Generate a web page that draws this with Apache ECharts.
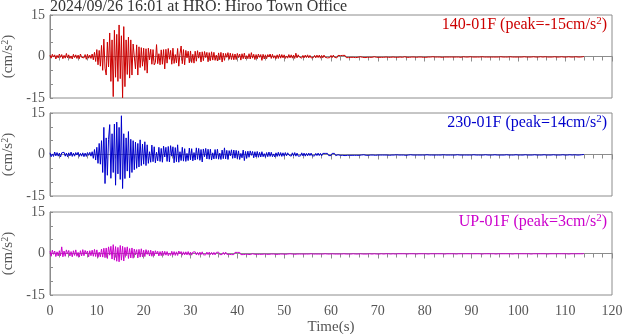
<!DOCTYPE html>
<html><head><meta charset="utf-8">
<script src="https://cdn.jsdelivr.net/npm/echarts@6/dist/echarts.min.js"></script>
<style>html,body{margin:0;padding:0;background:#fff}#c{width:624px;height:334px}</style>
</head><body><div id="c"></div>
<script>
// ---- data ----
var titleText = '2024/09/26 16:01 at HRO: Hiroo Town Office';
var channelNames = ['140-01F', '230-01F', 'UP-01F'];
var peakLabels = ['-15', '14', '3'];
var channelColors = ['#cc0000', '#0000cc', '#cc00cc'];
var xTicks = [0, 10, 20, 30, 40, 50, 60, 70, 80, 90, 100, 110, 120];
var yTickLabels = [-15, 0, 15];
var sampleStep = 0.25; // s between samples (one row below = 5 s)

var red = [
0.5,-0.6,0.8,-0.2,0.6,-0.9,0.4,-0.5,0.9,-0.3,0.7,-0.8,0.4,-0.6,1.1,-0.5,0.6,-0.7,0.2,-0.9,
0.8,-0.4,0.6,-0.7,0.5,-0.8,0.9,-0.3,0.4,-0.5,0.7,-1.0,0.8,-0.6,0.5,-0.7,0.9,-1.2,1.5,-1.8,
2.5,-3.0,2.2,-3.5,4.0,-5.0,6.3,-4.2,-6.7,5.2,-3.8,8.5,-9.0,6.0,-14.5,9.5,-7.5,8.0,-9.0,11.4,
-8.0,7.5,-14.9,10.8,-10.9,6.0,-6.5,7.0,-7.8,6.0,-6.7,4.5,3.8,-4.5,4.2,-6.7,3.5,-4.0,3.2,-3.5,
3.0,-5.0,2.8,-6.0,3.0,-1.2,2.6,-2.8,2.5,-3.0,-2.2,4.3,-2.6,1.0,-3.0,2.4,-2.8,2.5,-4.5,2.6,
-2.4,2.9,-1.0,2.2,-2.8,3.0,-2.5,0.7,-2.3,2.9,-3.5,1.0,3.8,-2.6,2.5,-3.0,2.2,-0.5,1.9,-2.3,
2.0,-2.2,0.8,-2.4,1.9,-1.7,2.1,-0.6,1.6,-2.0,1.7,-1.5,1.8,-0.4,1.5,-1.9,1.4,-1.5,1.7,-1.3,
1.5,-1.4,0.5,-1.6,1.3,-1.2,1.5,-2.0,1.2,-1.4,1.1,-0.3,1.4,-1.0,1.2,-1.1,1.0,-1.2,0.9,-1.1,
1.1,-0.4,0.9,-1.3,1.0,-0.8,1.2,-0.9,0.3,-0.8,1.0,-0.9,1.4,-0.6,0.8,-1.1,0.7,-0.8,0.9,-0.3,
0.7,-1.4,0.8,-0.9,0.6,-0.8,0.7,-0.2,0.9,-0.7,0.8,-0.6,0.3,-0.8,0.6,-0.7,0.8,-0.6,0.7,-0.5,
0.6,-0.7,0.2,-0.6,0.7,-0.5,0.6,-0.6,0.5,-0.7,1.2,-0.5,0.6,-0.2,0.5,-0.6,0.4,-0.5,0.5,-0.4,
0.6,-0.5,0.4,-0.5,0.1,-0.4,0.4,-0.5,0.5,-0.4,0.5,-0.6,0.4,-0.5,0.5,-0.3,0.4,-0.5,0.2,-0.4,
0.4,-0.4,0.5,-0.3,0.4,-0.5,0.4,-0.1,0.3,-0.4,0.4,-0.3,0.4,-0.4,0.3,-0.4,0.1,-0.3,0.4,-0.3,
0.3,-0.4,0.3,-0.3,0.4,-0.1,0.3,-0.3,0.3,-0.4,0.2,-0.3,0.3,-0.3,0.4,-0.3,0.3,-0.1,0.3,-0.3,
0.3,-0.3,0.2,-0.3,0.3,-0.3,0.1,-0.2,0.3,-0.3,0.2,-0.3,0.3,-0.2,0.3,-0.3,0.2,-0.3,0.3,-0.2,
0.2,-0.3,0.3,-0.1,0.3,-0.3,0.2,-0.3,0.2,-0.2,0.3,-0.2,0.2,-0.3,0.1,-0.2,0.3,-0.2,0.2,-0.3,
0.2,-0.3,0.2,-0.2,0.3,-0.2,0.2,-0.1,0.2,-0.2,0.3,-0.2,0.2,-0.2,0.2,-0.3,0.2,-0.2,0.1,-0.2,
0.2,-0.2,0.3,-0.2,0.2,-0.2,0.1,-0.2,0.2,-0.2,0.2,-0.3,0.2,-0.1,0.2,-0.2,0.2,-0.2,0.2,-0.1,
0.2,-0.2,0.2,-0.2,0.1,-0.2,0.2,-0.2,0.2,-0.1,0.2,-0.2,0.2,-0.2,0.1,-0.2,0.2,-0.2,0.2,-0.2,
0.1,-0.2,0.2,-0.2,0.2,-0.1,0.2,-0.2,0.2,-0.2,0.1,-0.2,0.2,-0.1,0.2,-0.2,0.2,-0.2,0.1,-0.2,
0.2,-0.2,0.1,-0.2,0.2,-0.1,0.2,-0.2,0.1,-0.2,0.2,-0.2,0.2,-0.1,0.2,-0.2,0.1,-0.2,0.2,-0.1,
0.2,-0.2,0.2,-0.1,0.2,-0.2,0.1,-0.2,0.2,-0.2,0.2,-0.1,0.1,-0.2,0.2,-0.2,0.2,-0.1,0.2,-0.2,
0.1,-0.2,0.2,-0.1,0.2,-0.2,0.1,-0.2,0.2,-0.1,0.2,-0.2,0.1,-0.2,0.2,-0.1,0.0
];
var blue = [
0.6,-0.8,0.2,-0.7,0.9,-0.5,0.7,-0.6,0.5,-0.9,0.6,-0.1,0.8,-0.6,0.5,-0.8,0.6,-0.5,0.9,-0.7,
0.5,-0.6,0.7,-0.2,0.8,-0.7,0.4,-0.6,0.6,-0.8,0.5,-0.7,0.7,-0.3,0.8,-0.6,1.0,-1.4,1.8,-2.0,
2.6,-3.2,4.0,-3.5,5.0,-6.5,9.8,-10.5,6.0,-7.5,5.5,10.8,-8.6,7.5,-6.5,11.0,-11.1,11.7,-7.0,9.8,
-9.0,14.0,-12.3,7.5,-8.7,6.0,-6.0,8.3,-8.4,5.5,-6.5,5.0,-5.5,4.5,-5.0,4.0,-4.5,5.3,-4.0,3.8,
-3.5,4.6,-4.0,3.5,-3.2,1.0,-2.8,3.4,-2.6,2.8,-3.0,0.8,-2.3,2.6,-2.5,2.2,-2.8,3.0,-0.9,2.6,
-2.5,2.9,-2.7,3.2,-0.6,2.8,-3.0,2.5,-2.6,3.5,-2.8,1.0,-2.2,2.6,-2.4,2.1,-2.5,0.4,-2.2,2.3,
-1.9,2.1,-2.3,0.7,-2.0,2.4,-1.7,2.2,-2.1,1.8,-2.7,2.0,-0.8,2.2,-1.6,1.9,-1.7,1.9,-2.0,0.6,
-1.6,1.8,-1.5,1.9,-1.7,0.5,-1.8,1.6,-1.5,2.4,-1.6,1.5,-1.8,1.4,-0.5,1.7,-1.4,1.6,-1.3,1.5,
-1.5,1.3,-1.8,0.4,-1.2,1.6,-2.2,1.1,-1.4,1.2,-1.0,1.3,-0.3,1.1,-1.2,1.0,-0.9,1.1,-1.0,0.8,
-0.9,1.0,-0.8,0.3,-1.0,0.7,-0.8,0.9,-0.7,0.8,-0.8,0.2,-0.9,0.6,-0.7,0.8,-0.6,0.7,-0.7,0.6,
-0.6,0.7,-0.5,0.6,-0.2,0.5,-0.6,0.6,-0.5,0.7,-0.6,0.5,-0.6,0.1,-0.5,0.6,-0.5,0.5,-0.6,0.4,
-0.5,0.5,-0.4,0.5,-0.5,0.2,-0.5,0.4,-0.4,0.5,-0.4,0.4,-0.5,0.4,-0.1,0.4,-0.3,0.4,-0.4,0.3,
-0.4,0.4,-0.3,0.4,-0.4,0.3,-0.1,0.3,-0.3,0.4,-0.3,0.3,-0.4,0.3,-0.3,0.1,-0.3,0.4,-0.3,0.3,
-0.3,0.3,-0.3,0.2,-0.3,0.3,-0.2,0.3,-0.1,0.2,-0.3,0.2,-0.3,0.3,-0.2,0.3,-0.2,0.2,-0.3,0.2,
-0.2,0.3,-0.2,0.2,-0.2,0.3,-0.2,0.1,-0.2,0.2,-0.3,0.2,-0.2,0.2,-0.2,0.2,-0.1,0.3,-0.2,0.2,
-0.2,0.2,-0.2,0.2,-0.3,0.2,-0.2,0.2,-0.1,0.2,-0.2,0.2,-0.2,0.3,-0.2,0.2,-0.2,0.1,-0.2,0.2,
-0.2,0.2,-0.1,0.2,-0.2,0.2,-0.2,0.2,-0.2,0.1,-0.2,0.2,-0.2,0.2,-0.2,0.2,-0.1,0.2,-0.2,0.2,
-0.2,0.2,-0.2,0.1,-0.2,0.2,-0.2,0.2,-0.1,0.2,-0.2,0.2,-0.2,0.1,-0.2,0.2,-0.2,0.2,-0.2,0.1,
-0.2,0.2,-0.1,0.2,-0.2,0.2,-0.2,0.1,-0.2,0.2,-0.2,0.2,-0.1,0.2,-0.2,0.2,-0.2,0.1,-0.2,0.2,
-0.1,0.2,-0.2,0.2,-0.2,0.1,-0.2,0.2,-0.2,0.2,-0.1,0.2,-0.2,0.1,-0.2,0.2,-0.2,0.2,-0.1,0.2,
-0.2,0.1,-0.2,0.2,-0.2,0.2,-0.1,0.2,-0.2,0.2,-0.2,0.1,-0.2,0.2,-0.1,0.2,-0.2,0.2,-0.2,0.1,
-0.2,0.2,-0.1,0.2,-0.2,0.1,-0.2,0.2,-0.2,0.2,-0.1,0.2,-0.2,0.2,-0.2,0.1,-0.2,0.2,-0.1,0.2,
-0.2,0.1,-0.2,0.2,-0.1,0.2,-0.2,0.2,-0.1,0.2,-0.2,0.1,-0.2,0.2,-0.1,0.1,0.0
];
var magenta = [
0.8,-1.0,1.2,-0.3,0.9,-1.1,0.6,-0.9,1.0,-0.8,2.4,-1.2,0.9,-1.0,1.3,-0.2,1.1,-0.9,0.7,-1.2,
1.0,-0.7,1.3,-1.0,0.4,-1.3,1.0,-0.9,1.4,-0.8,1.1,-0.2,0.9,-1.2,1.0,-0.8,1.2,-1.0,1.5,-1.1,
1.3,-1.4,0.5,-1.2,1.6,-1.3,1.9,-1.5,2.0,-1.8,2.4,-0.6,2.6,-2.0,3.2,-2.4,2.5,-2.8,2.2,-3.0,
2.9,-2.4,2.6,-2.7,2.2,-0.8,2.4,-1.8,1.8,-1.6,2.0,-1.7,1.6,-0.5,1.4,-1.6,1.5,-1.3,1.7,-1.2,
1.2,-1.1,1.4,-0.3,1.1,-0.9,1.2,-1.0,0.9,-0.8,1.0,-0.2,0.8,-0.9,0.7,-0.8,0.9,-0.7,0.8,-0.6,
0.7,-0.8,0.2,-0.7,0.8,-0.6,0.7,-0.7,0.6,-0.7,0.9,-0.1,0.7,-0.6,0.6,-0.5,0.6,-0.5,0.7,-0.6,
0.5,-0.6,0.5,-0.2,0.6,-0.5,0.4,-0.6,0.5,-0.4,0.6,-0.5,0.1,-0.5,0.5,-0.4,0.5,-0.4,0.4,-0.5,
0.4,-0.5,0.4,-0.1,0.5,-0.4,0.3,-0.4,0.4,-0.4,0.5,-0.3,0.4,-0.3,0.1,-0.4,0.3,-0.4,0.4,-0.3,
0.4,-0.3,0.4,-0.4,0.1,-0.4,0.3,-0.3,0.4,-0.3,0.3,-0.4,0.3,-0.1,0.3,-0.3,0.4,-0.3,0.3,-0.3,
0.3,-0.3,0.1,-0.2,0.3,-0.3,0.2,-0.3,0.3,-0.2,0.3,-0.2,0.3,-0.3,0.1,-0.3,0.2,-0.2,0.3,-0.2,
0.2,-0.3,0.2,-0.2,0.3,-0.1,0.2,-0.2,0.2,-0.3,0.2,-0.2,0.2,-0.2,0.3,-0.2,0.1,-0.2,0.2,-0.2,
0.2,-0.2,0.2,-0.1,0.2,-0.2,0.2,-0.2,0.1,-0.2,0.2,-0.2,0.2,-0.2,0.2,-0.1,0.2,-0.2,0.2,-0.2,
0.2,-0.1,0.2,-0.2,0.2,-0.2,0.1,-0.2,0.2,-0.2,0.2,-0.1,0.2,-0.2,0.2,-0.2,0.1,-0.2,0.2,-0.1,
0.2,-0.2,0.1,-0.2,0.2,-0.1,0.2,-0.2,0.1,-0.2,0.2,-0.2,0.1,-0.1,0.2,-0.2,0.2,-0.1,0.1,-0.2,
0.1,-0.2,0.2,-0.1,0.1,-0.2,0.2,-0.1,0.2,-0.1,0.1,-0.2,0.2,-0.1,0.1,-0.2,0.1,-0.1,0.2,-0.1,
0.1,-0.1,0.2,-0.1,0.1,-0.2,0.1,-0.1,0.2,-0.1,0.1,-0.1,0.1,-0.2,0.1,-0.1,0.2,-0.1,0.1,-0.1,
0.1,-0.1,0.1,-0.2,0.1,-0.1,0.2,-0.1,0.1,-0.1,0.1,-0.1,0.2,-0.1,0.1,-0.1,0.1,-0.2,0.1,-0.1,
0.2,-0.1,0.1,-0.1,0.1,-0.1,0.1,-0.2,0.1,-0.1,0.2,-0.1,0.1,-0.1,0.1,-0.1,0.1,-0.1,0.2,-0.1,
0.1,-0.1,0.1,-0.1,0.2,-0.1,0.1,-0.1,0.1,-0.2,0.1,-0.1,0.1,-0.1,0.1,-0.1,0.2,-0.1,0.1,-0.1,
0.1,-0.2,0.1,-0.1,0.1,-0.1,0.1,-0.1,0.2,-0.1,0.1,-0.1,0.1,-0.1,0.1,-0.2,0.1,-0.1,0.1,-0.1,
0.1,-0.1,0.2,-0.1,0.1,-0.1,0.1,-0.1,0.1,-0.1,0.1,-0.2,0.1,-0.1,0.1,-0.1,0.1,-0.1,0.2,-0.1,
0.1,-0.1,0.1,-0.1,0.1,-0.2,0.1,-0.1,0.1,-0.1,0.2,-0.1,0.1,-0.1,0.1,-0.1,0.1,-0.1,0.1,-0.1,
0.1,-0.1,0.1,-0.2,0.1,-0.1,0.1,-0.1,0.1,-0.1,0.2,-0.1,0.1,-0.1,0.1,-0.1,0.0
];

// ---- build ----
function toPairs(values) {
  var out = [];
  for (var i = 0; i < values.length; i++) out.push([i * sampleStep, values[i]]);
  return out;
}
var seriesData = [toPairs(red), toPairs(blue), toPairs(magenta)];

var FONT = '"Liberation Serif", "DejaVu Serif", serif';
var AX = '#8c8c8c';
var LBL = '#555555';
var gridTops = [15, 113, 212];
var gridH = 83;

var grids = [], xAxes = [], yAxes = [], series = [], titles = [];
titles.push({
  text: titleText, left: 50, top: -1, padding: 0,
  textStyle: { fontFamily: FONT, fontSize: 16, fontWeight: 'normal', color: '#333' }
});
for (var k = 0; k < 3; k++) {
  var last = (k === 2);
  grids.push({ left: 50, right: 12, top: gridTops[k], height: gridH, containLabel: false, outerBoundsMode: 'none',
    show: true, borderColor: AX, borderWidth: 1, backgroundColor: 'transparent' });
  xAxes.push({
    type: 'value', gridIndex: k, min: xTicks[0], max: xTicks[xTicks.length - 1], interval: 10,
    axisLine: { show: true, lineStyle: { color: AX } },
    axisTick: { show: true, inside: false, length: 5, lineStyle: { color: AX } },
    minorTick: { show: true, splitNumber: 5, length: 4, lineStyle: { color: AX } },
    splitLine: { show: false },
    axisLabel: { show: last, margin: 9, fontFamily: FONT, fontSize: 14, color: LBL },
    name: last ? 'Time(s)' : '', nameLocation: 'middle', nameGap: 25,
    nameTextStyle: { fontFamily: FONT, fontSize: 15, color: LBL }
  });
  yAxes.push({
    type: 'value', gridIndex: k, min: -15, max: 15, interval: 5,
    axisLine: { show: true, lineStyle: { color: AX } },
    axisTick: { show: true, inside: true, length: 3, lineStyle: { color: AX } },
    splitLine: { show: false },
    axisLabel: {
      margin: 5, fontFamily: FONT, fontSize: 14, color: LBL,
      formatter: function (v) { return yTickLabels.indexOf(v) >= 0 ? String(v) : ''; }
    },
    name: '{a|(cm/s}{s|2}{a|)}', nameLocation: 'middle', nameGap: 32, nameRotate: 90,
    nameTextStyle: {
      rich: {
        a: { fontFamily: FONT, fontSize: 15, color: LBL, lineHeight: 16 },
        s: { fontFamily: FONT, fontSize: 10, color: LBL, verticalAlign: 'top', lineHeight: 16 }
      }
    }
  });
  series.push({
    type: 'line', xAxisIndex: k, yAxisIndex: k, data: seriesData[k],
    showSymbol: false, symbol: 'none', sampling: null, animation: false,
    lineStyle: { color: channelColors[k], width: 1 }, silent: true
  });
  titles.push({
    text: '{a|' + channelNames[k] + ' (peak=' + peakLabels[k] + 'cm/s}{s|2}{a|)}',
    right: 17, top: gridTops[k] + 1, padding: 0,
    textStyle: {
      fontWeight: 'normal',
      rich: {
        a: { fontFamily: FONT, fontSize: 16, fontWeight: 'normal', color: channelColors[k], lineHeight: 18 },
        s: { fontFamily: FONT, fontSize: 11, fontWeight: 'normal', color: channelColors[k], verticalAlign: 'top', lineHeight: 12 }
      }
    }
  });
}

var chart = echarts.init(document.getElementById('c'), null, { renderer: 'canvas' });
chart.setOption({
  animation: false,
  backgroundColor: '#ffffff',
  title: titles,
  grid: grids, xAxis: xAxes, yAxis: yAxes, series: series
});
</script>
</body></html>
